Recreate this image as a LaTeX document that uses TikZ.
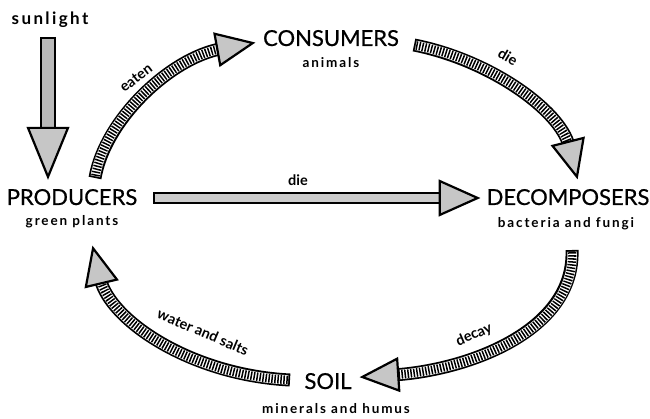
\documentclass[tikz,border=0pt]{standalone}
\usepackage{fontspec}
\setmainfont{Lato}
\usetikzlibrary{decorations.markings}
\tikzset{
  title/.style={font=\fontsize{22}{24}\selectfont\addfontfeatures{FakeBold=0.6}, inner sep=0pt, anchor=base},
  subt/.style={font=\bfseries\fontsize{13.5}{15}\selectfont\addfontfeatures{LetterSpace=14}, inner sep=0pt, anchor=base},
  lab/.style={font=\bfseries\fontsize{14.5}{16}\selectfont, inner sep=0pt},
  headfill/.style={fill=gray!45},
}
% #1 head length, #2 head half width, #3 shaft width, #4 inner style, #5 path
\newcommand\fatarrow[5]{%
  \draw[line width=#3, line cap=butt, shorten >=#1-4pt] #5;
  \draw[line width=#3-3.6pt, line cap=butt, draw=white, shorten >=#1-4pt, shorten <=1.8pt] #5;
  \draw[line width=#3-4.4pt, line cap=butt, #4, shorten >=#1-4pt, shorten <=2.2pt] #5;
  \path[postaction={decorate, decoration={markings, mark=at position 0.999 with {%
     \draw[line width=2.2pt, line join=miter, headfill] (0pt,0pt) -- (-#1,#2) -- (-#1,-#2) -- cycle;}}}] #5;
}
\begin{document}
\begin{tikzpicture}[x=1pt, y=-1pt]
\useasboundingbox (0,0) rectangle (650,419);

% texts
\node[subt, font=\bfseries\fontsize{17}{19}\selectfont\addfontfeatures{LetterSpace=14}] (sun) at (50,25) {sunlight};
\node[title] (prod) at (72,205) {PRODUCERS};
\node[subt] (prods) at (72,226) {green plants};
\node[title] (cons) at (331,46) {CONSUMERS};
\node[subt] (conss) at (331,68) {animals};
\node[title] (dec) at (568,205) {DECOMPOSERS};
\node[subt] (decs) at (566,228) {bacteria and fungi};
\node[title] (soil) at (328,389) {SOIL};
\node[subt] (soils) at (336,413) {minerals and humus};

% arrow ends
\coordinate (sunA) at (48,37);   \coordinate (sunB) at (48,177);
\coordinate (hA) at (153,198);   \coordinate (hB) at (478,198);
\coordinate (eA) at (95,178);    \coordinate (eB) at (253,43);
\coordinate (dA) at (414,45);    \coordinate (dB) at (577,177);
\coordinate (cA) at (572,250);   \coordinate (cB) at (362,377);
\coordinate (wA) at (290,380);   \coordinate (wB) at (93,248);

\fatarrow{49pt}{20pt}{16pt}{draw=gray!55}{(sunA) -- (sunB)}
\fatarrow{38pt}{17pt}{12pt}{draw=gray!40}{(hA) -- (hB)}
\fatarrow{36pt}{16pt}{13pt}{draw=black, dash pattern=on 1.5pt off 1.5pt}{(eA) .. controls (105,120) and (170,58) .. (eB)}
\fatarrow{36pt}{16pt}{13pt}{draw=black, dash pattern=on 1.5pt off 1.5pt}{(dA) .. controls (490,60) and (560,110) .. (dB)}
\fatarrow{36pt}{16pt}{13pt}{draw=black, dash pattern=on 1.5pt off 1.5pt}{(cA) .. controls (575,330) and (470,370) .. (cB)}
\fatarrow{36pt}{16pt}{13pt}{draw=black, dash pattern=on 1.5pt off 1.5pt}{(wA) .. controls (190,375) and (110,320) .. (wB)}

% labels
\node[lab] (leaten) at (136,78) [rotate=37] {eaten};
\node[lab] (ldie1) at (508,57) [rotate=-30] {die};
\node[lab] (ldie2) at (298,180) {die};
\node[lab] (ldecay) at (474,335) [rotate=23] {decay};
\node[lab] (lwater) at (203,332) [rotate=-23] {water and salts};
\end{tikzpicture}
\end{document}
